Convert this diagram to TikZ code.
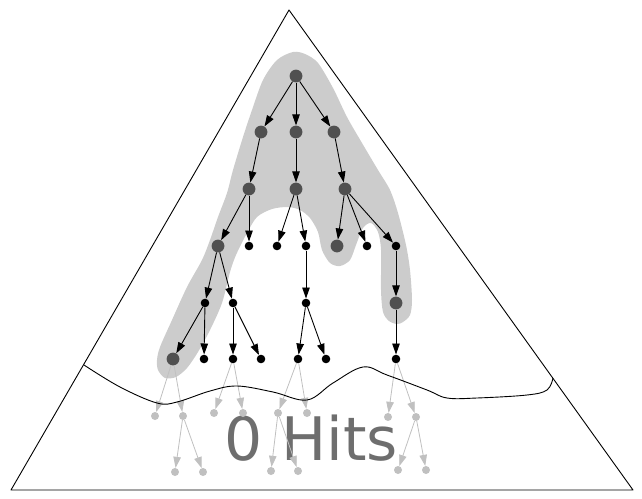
\documentclass[tikz,border=0pt]{standalone}
\usepackage{fontspec}
\newfontfamily\hitsfont{DejaVu Sans}
\usetikzlibrary{arrows.meta}
\definecolor{blobgray}{HTML}{CCCCCC}
\definecolor{darknode}{HTML}{505050}
\definecolor{faint}{HTML}{C0C0C0}
\definecolor{hitsgray}{HTML}{6E6E6E}
\begin{document}
\begin{tikzpicture}[x=1pt,y=-1pt,
  dnode/.style={circle,fill=darknode,inner sep=0pt,minimum size=12.8pt},
  snode/.style={circle,fill=black,inner sep=0pt,minimum size=8.6pt},
  gnode/.style={circle,fill=faint,inner sep=0pt,minimum size=8pt},
  edge/.style={line width=0.9pt,-{Triangle[length=11pt,width=7.5pt]}},
  gedge/.style={line width=0.8pt,draw=faint,-{Triangle[length=11pt,width=7.5pt,fill=faint]}},
  outline/.style={line width=0.9pt,line join=round}
  ]
\useasboundingbox (0,0) rectangle (642,498);
% triangle
\coordinate (tA) at (289,10);
\coordinate (tL) at (11,490);
\coordinate (tR) at (633,490);
\draw[outline] (tA) -- (tL) -- (tR) -- cycle;
% gray region
\fill[blobgray] plot[smooth cycle, tension=0.5] coordinates {
 (293,52) (305,54) (318,63) (333,88) (347,117) (362,143) (378,170) (390,190)
 (398,213) (406,245) (410,270) (412,300) (410,315) (403,322) (397,324)
 (389,321) (383,312) (381,290) (381,250) (378,232) (371,223) (363,228)
 (356,245) (350,260) (340,266) (330,263) (322,250) (318,232) (310,218)
 (300,210) (288,207) (272,209) (257,217) (247,233) (236,255) (230,272)
 (222,303) (210,330) (198,352) (187,368) (176,377) (165,378) (158,370)
 (157,360) (160,347) (172,320) (187,287) (202,260) (210,240) (218,217)
 (227,193) (233,170) (243,137) (252,110) (263,80) (277,60)};
% text
\node[text=hitsgray,font=\hitsfont\fontsize{60}{60}\selectfont,inner sep=0pt,anchor=base] (hits) at (311,460) {0 Hits};
% nodes
\node[dnode] (r)  at (296,76) {};
\node[dnode] (a1) at (261,132) {};
\node[dnode] (a2) at (296,132) {};
\node[dnode] (a3) at (334,132) {};
\node[dnode] (b1) at (249,189) {};
\node[dnode] (b2) at (296,189) {};
\node[dnode] (b3) at (345,189) {};
\node[dnode] (c1) at (218,246) {};
\node[snode] (c2) at (249,246) {};
\node[snode] (c3) at (277,246) {};
\node[snode] (c4) at (306,246) {};
\node[dnode] (c5) at (337,246) {};
\node[snode] (c6) at (367,246) {};
\node[snode] (c7) at (396,246) {};
\node[snode] (d1) at (205,303) {};
\node[snode] (d2) at (233,303) {};
\node[snode] (d3) at (306,303) {};
\node[dnode] (d4) at (396,303) {};
\node[dnode] (e1) at (173,359) {};
\node[snode] (e2) at (204,359) {};
\node[snode] (e3) at (233,359) {};
\node[snode] (e4) at (261,359) {};
\node[snode] (e5) at (298,359) {};
\node[snode] (e6) at (326,359) {};
\node[snode] (e7) at (396,359) {};
\node[gnode] (f1) at (155,416) {};
\node[gnode] (f2) at (183,416) {};
\node[gnode] (f3) at (214,413) {};
\node[gnode] (f4) at (243,413) {};
\node[gnode] (f5) at (278,413) {};
\node[gnode] (f6) at (307,413) {};
\node[gnode] (f7) at (388,417) {};
\node[gnode] (f8) at (416,417) {};
\node[gnode] (h1) at (175,472) {};
\node[gnode] (h2) at (203,472) {};
\node[gnode] (h3) at (271,471) {};
\node[gnode] (h4) at (298,471) {};
\node[gnode] (h5) at (398,470) {};
\node[gnode] (h6) at (426,470) {};
% black edges
\foreach \s/\t in {r/a1,r/a2,r/a3,a1/b1,a2/b2,a3/b3,b1/c1,b1/c2,b2/c3,b2/c4,
  b3/c5,b3/c6,b3/c7,c1/d1,c1/d2,c4/d3,c7/d4,d1/e1,d1/e2,d2/e3,d2/e4,d3/e5,d3/e6,d4/e7}
  \draw[edge] (\s) -- (\t);
% gray edges
\foreach \s/\t in {e1/f1,e1/f2,e3/f3,e3/f4,e5/f5,e5/f6,e7/f7,e7/f8,
  f2/h1,f2/h2,f5/h3,f5/h4,f8/h5,f8/h6}
  \draw[gedge] (\s) -- (\t);
% wavy boundary
\draw[outline] plot[smooth, tension=0.6] coordinates {
 (84,365) (120,387) (157,403) (177,402) (210,391) (237,386) (273,392) (307,400)
 (333,383) (363,367) (387,375) (427,390) (447,398) (477,398) (527,395) (547,390) (553,378)};
\end{tikzpicture}
\end{document}
